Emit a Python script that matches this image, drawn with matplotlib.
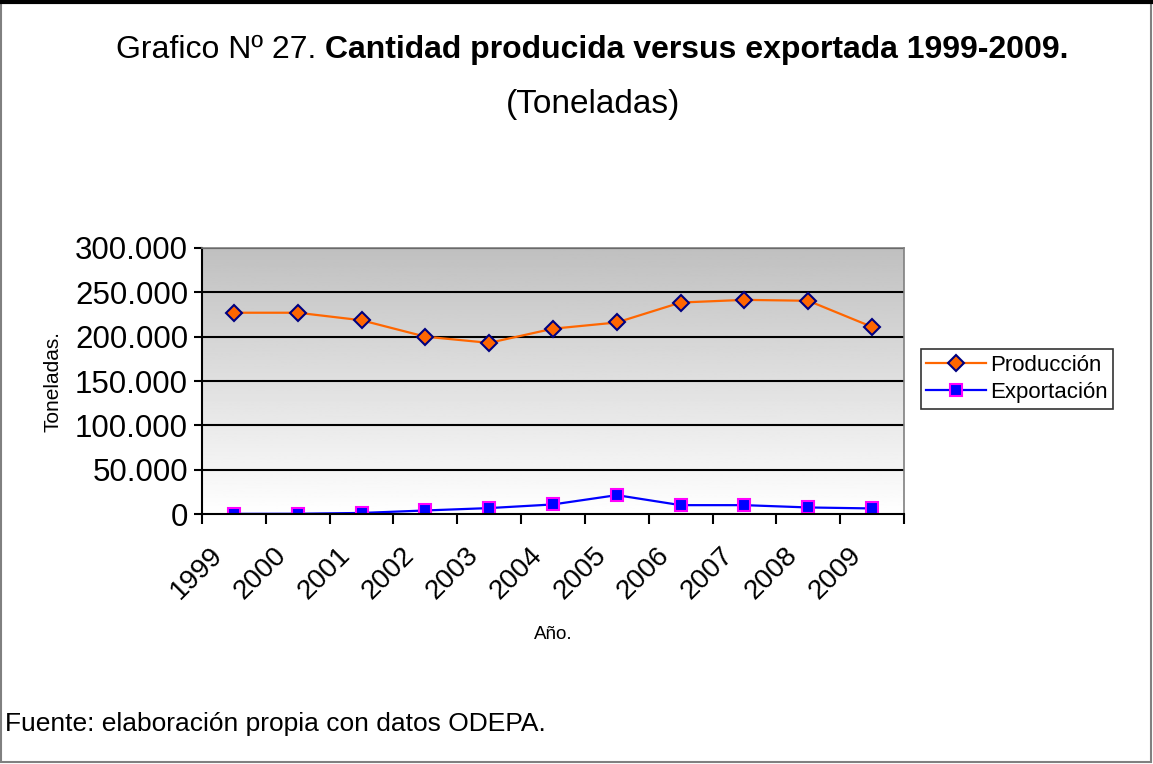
"""Grafico 27: cantidad producida versus exportada 1999-2009 (toneladas)."""

import matplotlib

matplotlib.use("Agg")
import matplotlib.pyplot as plt
import matplotlib.transforms as mtransforms
import numpy as np
from matplotlib.patches import Rectangle
from matplotlib.ticker import FuncFormatter, FixedLocator

years = ["1999", "2000", "2001", "2002", "2003", "2004", "2005", "2006", "2007", "2008", "2009"]
produccion = [227000, 227000, 218500, 200000, 193000, 209000, 216000, 238500, 241500, 240500, 211000]
exportacion = [200, 300, 1200, 4000, 6700, 10800, 21300, 10000, 10000, 7400, 6300]

plt.rcParams["font.family"] = ["Liberation Sans", "DejaVu Sans"]

fig = plt.figure(figsize=(11.53, 7.64), dpi=100)
ax = fig.add_axes([0.1752, 0.3272, 0.6088, 0.3482])

# gradient background of the plot area (grey top -> white bottom)
grad = np.linspace(0.75, 1.0, 256).reshape(-1, 1)
ax.imshow(grad, cmap="gray", vmin=0, vmax=1, aspect="auto", origin="upper",
          extent=[0, 1, 0, 1], transform=ax.transAxes, zorder=0)

x = np.arange(len(years))
ax.plot(x, produccion, color="#FF6600", lw=1.6, marker="D", ms=8.5,
        mfc="#FF6600", mec="#000080", mew=1.5, label="Producción", zorder=4)
ax.plot(x, exportacion, color="#0000FF", lw=1.6, marker="s", ms=9,
        mfc="#0000FF", mec="#FF00FF", mew=1.5, label="Exportación", zorder=4)

ax.set_xlim(-0.5, len(years) - 0.5)
ax.set_ylim(0, 300000)
ax.set_yticks(np.arange(0, 300001, 50000))
for yv in np.arange(50000, 300001, 50000):
    ax.axhline(yv, color="black", lw=1.5, zorder=2)
ax.yaxis.set_major_formatter(FuncFormatter(lambda v, p: f"{int(v):,}".replace(",", ".")))

ax.set_xticks(x)
ax.set_xticklabels(years, rotation=45, ha="right", rotation_mode="anchor", fontsize=20)
ax.xaxis.set_minor_locator(FixedLocator(np.arange(-0.5, len(years), 1.0)))
ax.tick_params(axis="x", which="major", length=0, pad=20)
ax.tick_params(axis="x", which="minor", length=7, width=1.5, direction="out", color="black")
ax.tick_params(axis="y", labelsize=22.5, length=6, width=1.5, direction="out", pad=4)
shift = mtransforms.ScaledTranslation(-24 / 100, 0, fig.dpi_scale_trans)
for lab in ax.get_xticklabels():
    lab.set_transform(lab.get_transform() + shift)

for s in ("top", "right"):
    ax.spines[s].set_color("#808080")
    ax.spines[s].set_linewidth(1.2)
ax.spines["left"].set_linewidth(1.5)
ax.spines["bottom"].set_linewidth(1.5)
ax.spines["bottom"].set_zorder(5)

ax.set_xlabel("Año.", fontsize=13.5, labelpad=16)
ax.set_ylabel("Toneladas.", fontsize=15, labelpad=9)

leg = fig.legend(loc="center", bbox_to_anchor=(0.882, 0.504), fontsize=16,
                 frameon=True, fancybox=False, edgecolor="black", handlelength=2.7,
                 borderpad=0.25, labelspacing=0.3, handletextpad=0.15, borderaxespad=0)
leg.get_frame().set_linewidth(1.2)

t1 = fig.text(0.1005, 0.935, "Grafico Nº 27. ", fontsize=23, ha="left", va="center")
fig.canvas.draw()
bb = t1.get_window_extent()
fig.text(bb.x1 / fig.bbox.width, 0.935, "Cantidad producida versus exportada 1999-2009.",
         fontsize=23, fontweight="bold", ha="left", va="center")
fig.text(0.514, 0.863, "(Toneladas)", fontsize=24, ha="center", va="center")
fig.text(0.004, 0.052, "Fuente: elaboración propia con datos ODEPA.", fontsize=19,
         ha="left", va="center")

# outer frame
fig.add_artist(Rectangle((0.0005, 0.002), 0.998, 0.996, transform=fig.transFigure,
                         fill=False, edgecolor="#808080", lw=1.5))
fig.add_artist(plt.Line2D([0, 1], [0.998, 0.998], transform=fig.transFigure,
                          color="black", lw=3))

fig.savefig("out.png", dpi=100)
